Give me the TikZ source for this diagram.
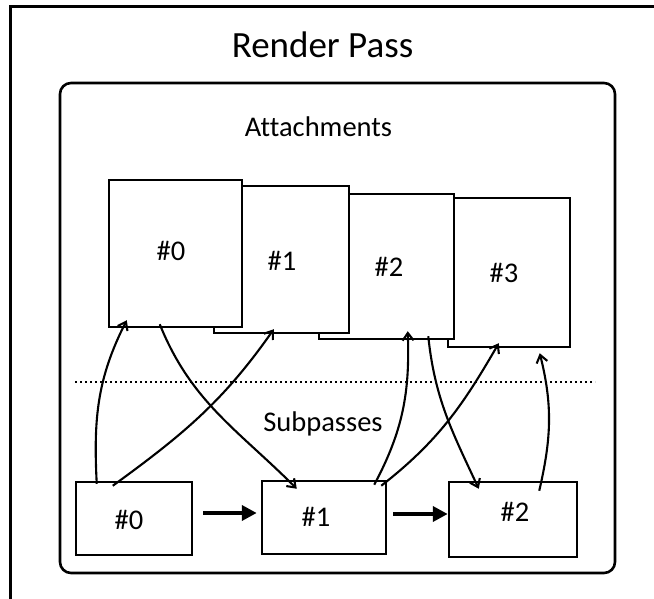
\documentclass[tikz,border=0pt]{standalone}
\usepackage{fontspec}
\setmainfont{Carlito}[Ligatures=NoCommon]
\usetikzlibrary{arrows.meta}
\begin{document}
\begin{tikzpicture}[x=1pt,y=1pt,
  box/.style={draw,line width=2.5pt,fill=white,inner sep=0pt},
  lbl/.style={anchor=base,inner sep=0pt,font=\fontsize{28.5}{30}\selectfont},
  flow/.style={line width=2.1pt,-{Straight Barb[length=7.5pt,width=11pt,line width=2.1pt]}},
  seq/.style={line width=3.8pt,-{Triangle[length=15pt,width=15pt]}}]
% page background
\fill[white] (0,0) rectangle (654,598);
\useasboundingbox (0,0) rectangle (654,598);
% outer frame (only top and left edges lie on the page)
\coordinate (fl) at (10,-2);
\coordinate (ftl) at (10,591);
\coordinate (ftr) at (654,591);
\draw[line width=3pt] (fl) -- (ftl) -- (ftr);
\node[anchor=base,inner sep=0pt,font=\fontsize{37}{40}\selectfont] (title) at (322.5,540) {Render Pass};
% render pass body
\draw[line width=2.6pt,rounded corners=11pt] (60,25) rectangle (615,515);
\node[lbl] (atxt) at (318.5,461) {Attachments};
% attachments, back to front
\node[box,minimum width=122pt,minimum height=149pt] (a3) at (509,325.5) {};
\node[box,minimum width=135pt,minimum height=145pt] (a2) at (386.5,331.5) {};
\node[box,minimum width=135pt,minimum height=147pt] (a1) at (281.5,338.5) {};
\node[box,minimum width=133pt,minimum height=147pt] (a0) at (175.5,344.5) {};
\node[lbl] (a0t) at (171,337) {\#0};
\node[lbl] (a1t) at (282,327) {\#1};
\node[lbl] (a2t) at (389,321) {\#2};
\node[lbl] (a3t) at (504,315) {\#3};
% separator
\coordinate (dl) at (75,216);
\coordinate (dr) at (595,216);
\draw[line width=2pt,dash pattern=on 2pt off 3pt] (dl) -- (dr);
\node[lbl] (stxt) at (323,166) {Subpasses};
% subpasses
\node[box,minimum width=116pt,minimum height=73pt] (s0) at (134,79.5) {};
\node[box,minimum width=124pt,minimum height=73pt] (s1) at (324,80.5) {};
\node[box,minimum width=128pt,minimum height=75pt] (s2) at (513,78.5) {};
\node[lbl] (s0t) at (129,69) {\#0};
\node[lbl] (s1t) at (316,72) {\#1};
\node[lbl] (s2t) at (515,77) {\#2};
% subpass order
\draw[seq,shorten <=10pt,shorten >=4pt] ([yshift=5.5pt]s0.east) -- ([yshift=4.5pt]s1.west);
\draw[seq,shorten <=6pt] ([yshift=3.5pt]s1.east) -- ([yshift=5.5pt]s2.west);
% attachment usage
\draw[flow] ([xshift=22pt,yshift=-3pt]s0.north west) to[out=93,in=-117] ([xshift=19pt,yshift=8pt]a0.south west);
\draw[flow] ([xshift=38pt,yshift=-5pt]s0.north west) to[out=36,in=-125] ([xshift=61pt,yshift=5pt]a1.south west);
\draw[flow] ([xshift=52pt,yshift=4pt]a0.south west) to[out=-68,in=135] ([xshift=36pt,yshift=-9pt]s1.north west);
\draw[flow] ([xshift=-13pt,yshift=-5pt]s1.north east) to[out=62,in=-88] ([xshift=90pt,yshift=9pt]a2.south west);
\draw[flow] ([xshift=-6pt,yshift=-6pt]s1.north east) to[out=38,in=-120] ([xshift=52pt,yshift=5pt]a3.south west);
\draw[flow] ([xshift=-27pt,yshift=4pt]a2.south east) to[out=-84,in=115] ([xshift=31pt,yshift=-8pt]s2.north west);
\draw[flow] ([xshift=-39pt,yshift=-10pt]s2.north east) to[out=77,in=-76] ([xshift=93pt,yshift=-5pt]a3.south west);
\end{tikzpicture}
\end{document}
